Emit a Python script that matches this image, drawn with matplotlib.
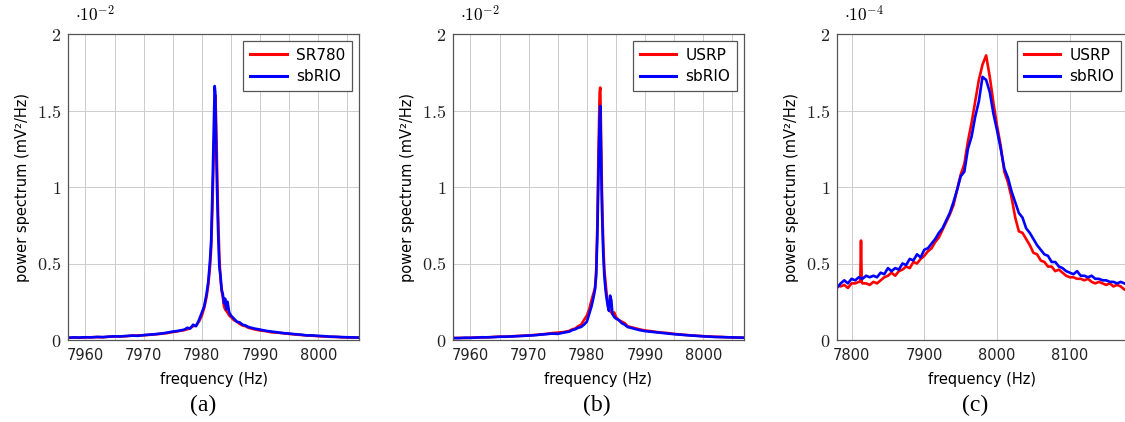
import numpy as np
import matplotlib
matplotlib.use("Agg")
import matplotlib.pyplot as plt
from matplotlib.ticker import FuncFormatter, MultipleLocator

plt.rcParams['font.family'] = ['DejaVu Sans']
plt.rcParams['mathtext.fontset'] = 'cm'

# ---- panel (a) and (b): narrow band around the resonance (values x1e-2) ----
freq_ab = [7957, 7958, 7959, 7960, 7961, 7962, 7963, 7964, 7965, 7966, 7967,
           7968, 7969, 7970, 7971, 7972, 7973, 7974, 7975, 7976, 7977,
           7977.5, 7978, 7978.5, 7979, 7979.5, 7980,
           7980.4, 7980.8, 7981.1, 7981.4, 7981.6, 7981.8,
           7982.0, 7982.2, 7982.3, 7982.4, 7982.6, 7982.8,
           7983.0, 7983.2, 7983.4, 7983.6, 7983.8,
           7984.0, 7984.2, 7984.4, 7984.7,
           7985, 7985.5, 7986, 7986.5, 7987, 7987.5, 7988,
           7989, 7990, 7991, 7992, 7993, 7994, 7995, 7996, 7997, 7998, 7999,
           8000, 8001, 8002, 8003, 8004, 8005, 8006, 8007]

sr780 = [0.014, 0.016, 0.015, 0.017, 0.018, 0.019, 0.018, 0.021, 0.023, 0.024, 0.025,
         0.028, 0.030, 0.031, 0.034, 0.037, 0.041, 0.045, 0.052, 0.058, 0.065,
         0.07, 0.078, 0.09, 0.095, 0.12, 0.16,
         0.21, 0.28, 0.36, 0.48, 0.60, 0.85,
         1.15, 1.45, 1.60, 1.50, 1.15, 0.80,
         0.55, 0.40, 0.32, 0.28, 0.22,
         0.20, 0.19, 0.18, 0.16,
         0.15, 0.13, 0.12, 0.105, 0.095, 0.09, 0.08,
         0.07, 0.062, 0.058, 0.05, 0.048, 0.044, 0.040, 0.036, 0.033, 0.030, 0.028,
         0.025, 0.023, 0.021, 0.020, 0.018, 0.017, 0.016, 0.015]

sbrio_a = [0.015, 0.017, 0.016, 0.018, 0.017, 0.020, 0.019, 0.022, 0.024, 0.023, 0.026,
           0.029, 0.027, 0.032, 0.035, 0.038, 0.042, 0.048, 0.055, 0.060, 0.068,
           0.08, 0.075, 0.10, 0.09, 0.13, 0.18,
           0.22, 0.30, 0.38, 0.52, 0.65, 0.95,
           1.30, 1.66, 1.62, 1.40, 1.00, 0.70,
           0.48, 0.42, 0.33, 0.30, 0.24,
           0.27, 0.20, 0.25, 0.18,
           0.16, 0.14, 0.12, 0.115, 0.10, 0.095, 0.085,
           0.075, 0.068, 0.060, 0.055, 0.050, 0.045, 0.042, 0.038, 0.035, 0.030, 0.030,
           0.027, 0.025, 0.022, 0.021, 0.019, 0.018, 0.017, 0.016]

usrp_b = [0.012, 0.014, 0.013, 0.015, 0.016, 0.018, 0.017, 0.020, 0.022, 0.021, 0.024,
          0.026, 0.028, 0.030, 0.033, 0.036, 0.040, 0.045, 0.048, 0.052, 0.060,
          0.07, 0.075, 0.09, 0.10, 0.13, 0.16,
          0.20, 0.26, 0.30, 0.34, 0.45, 0.75,
          1.25, 1.62, 1.65, 1.45, 0.95, 0.65,
          0.46, 0.38, 0.30, 0.24, 0.20,
          0.19, 0.18, 0.17, 0.18,
          0.15, 0.13, 0.12, 0.11, 0.09, 0.085, 0.08,
          0.07, 0.062, 0.058, 0.052, 0.048, 0.045, 0.040, 0.036, 0.033, 0.030, 0.027,
          0.025, 0.023, 0.021, 0.020, 0.018, 0.017, 0.016, 0.015]

sbrio_b = [0.013, 0.012, 0.015, 0.014, 0.016, 0.017, 0.018, 0.019, 0.021, 0.022, 0.023,
           0.025, 0.027, 0.029, 0.031, 0.035, 0.038, 0.042, 0.040, 0.048, 0.055,
           0.065, 0.07, 0.08, 0.085, 0.10, 0.12,
           0.17, 0.22, 0.27, 0.33, 0.42, 0.68,
           1.10, 1.45, 1.53, 1.30, 0.85, 0.58,
           0.42, 0.33, 0.27, 0.22, 0.19,
           0.29, 0.26, 0.17, 0.15,
           0.14, 0.13, 0.11, 0.10, 0.085, 0.08, 0.075,
           0.065, 0.058, 0.054, 0.050, 0.046, 0.042, 0.038, 0.035, 0.032, 0.029, 0.027,
           0.024, 0.022, 0.020, 0.019, 0.018, 0.017, 0.016, 0.015]

# ---- panel (c): wide band (values x1e-4) ----
freq_c_blue = np.arange(7780, 8181, 5)
sbrio_c = [0.34, 0.37, 0.39, 0.37, 0.40, 0.39, 0.41, 0.40, 0.42, 0.41,
           0.42, 0.41, 0.44, 0.43, 0.47, 0.45, 0.47, 0.46, 0.50, 0.49,
           0.53, 0.52, 0.56, 0.54, 0.59, 0.60, 0.63, 0.66, 0.70, 0.73,
           0.78, 0.83, 0.90, 0.98, 1.07, 1.10, 1.25, 1.33, 1.46, 1.56,
           1.72, 1.70, 1.62, 1.48, 1.37, 1.25, 1.12, 1.06, 0.97, 0.90,
           0.83, 0.80, 0.73, 0.70, 0.66, 0.62, 0.59, 0.56, 0.55, 0.51,
           0.51, 0.48, 0.47, 0.45, 0.44, 0.43, 0.45, 0.42, 0.42, 0.41,
           0.42, 0.40, 0.40, 0.39, 0.39, 0.38, 0.38, 0.37, 0.38, 0.37,
           0.36]

freq_c_red = list(range(7780, 7811, 5)) + [7812, 7813, 7814] + list(range(7815, 8181, 5))
usrp_c = [0.36, 0.35, 0.36, 0.34, 0.37, 0.37, 0.38,
          0.38, 0.65, 0.38,
          0.37, 0.37, 0.36, 0.38, 0.37, 0.39, 0.41, 0.42, 0.44, 0.42,
          0.45, 0.46, 0.48, 0.47, 0.51, 0.50, 0.53, 0.55, 0.58, 0.60,
          0.64, 0.67, 0.72, 0.77, 0.82, 0.88, 0.98, 1.08, 1.15, 1.30,
          1.42, 1.56, 1.70, 1.80, 1.86, 1.72, 1.55, 1.40, 1.27, 1.10,
          1.03, 0.93, 0.80, 0.71, 0.70, 0.66, 0.62, 0.57, 0.56, 0.52,
          0.51, 0.48, 0.48, 0.45, 0.46, 0.44, 0.42, 0.41, 0.41, 0.40,
          0.40, 0.39, 0.40, 0.38, 0.37, 0.38, 0.37, 0.36, 0.37, 0.35,
          0.36, 0.35, 0.33, 0.32]

panels = [
    dict(left=68, freq_r=freq_ab, red=sr780, freq_b=freq_ab, blue=sbrio_a,
         names=('SR780', 'sbRIO'), xlim=(7957, 8007), step=5, label_every=10,
         exp=r'$\cdot 10^{-2}$', cap='(a)', cap_x=203),
    dict(left=453, freq_r=freq_ab, red=usrp_b, freq_b=freq_ab, blue=sbrio_b,
         names=('USRP', 'sbRIO'), xlim=(7957, 8007), step=5, label_every=10,
         exp=r'$\cdot 10^{-2}$', cap='(b)', cap_x=597),
    dict(left=837, freq_r=freq_c_red, red=usrp_c, freq_b=freq_c_blue, blue=sbrio_c,
         names=('USRP', 'sbRIO'), xlim=(7780, 8180), step=100, label_every=100,
         exp=r'$\cdot 10^{-4}$', cap='(c)', cap_x=975),
]

W, H = 1125, 422
fig = plt.figure(figsize=(W / 100, H / 100), dpi=100)

for p in panels:
    ax = fig.add_axes([p['left'] / W, (H - 340) / H, 291 / W, 306 / H])
    ax.plot(p['freq_r'], p['red'], color='#ff0000', lw=1.9, label=p['names'][0])
    ax.plot(p['freq_b'], p['blue'], color='#0000ff', lw=1.9, label=p['names'][1])
    ax.set_xlim(*p['xlim'])
    ax.set_ylim(0, 2)

    ax.xaxis.set_major_locator(MultipleLocator(p['step']))
    every = p['label_every']
    ax.xaxis.set_major_formatter(FuncFormatter(
        lambda v, pos, e=every: f'{v:.0f}' if abs(v / e - round(v / e)) < 1e-6 else ''))
    ax.yaxis.set_major_locator(MultipleLocator(0.5))
    ax.yaxis.set_major_formatter(FuncFormatter(lambda v, pos: f'${v:g}$'))
    ax.tick_params(axis='x', length=0, pad=6, labelsize=10.5, colors='#222222')
    ax.tick_params(axis='y', length=0, pad=5, labelsize=13, colors='#222222')

    ax.grid(True, color='#cccccc', lw=0.7)
    ax.set_axisbelow(True)
    for s in ax.spines.values():
        s.set_color('#555555')
        s.set_linewidth(0.9)

    ax.set_xlabel('frequency (Hz)', fontsize=10.5, labelpad=6)
    ax.set_ylabel('power spectrum (mV²/Hz)', fontsize=10.5)
    ax.yaxis.set_label_coords(-0.13, 0.5)

    ax.text(7 / 291, 1 + 19 / 306, p['exp'], transform=ax.transAxes,
            ha='left', va='center', fontsize=12.5)

    leg = ax.legend(loc='upper right', fontsize=11, fancybox=False,
                    edgecolor='#555555', framealpha=1, handlelength=2.4,
                    borderaxespad=0.45, labelspacing=0.4, handletextpad=0.6,
                    borderpad=0.45)
    leg.get_frame().set_linewidth(0.9)
    for line in leg.get_lines():
        line.set_linewidth(2.2)

    fig.text(p['cap_x'] / W, 1 - 405 / H, p['cap'], ha='center', va='center',
             fontsize=17, family='Liberation Serif')

fig.savefig('out.png', dpi=100)
